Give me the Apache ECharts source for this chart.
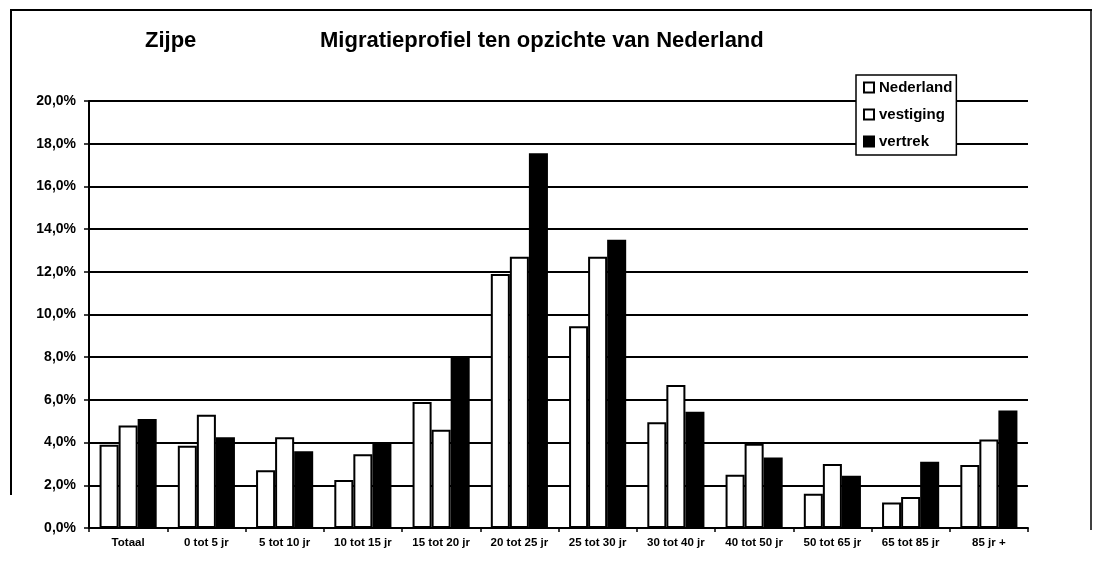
<!DOCTYPE html>
<html><head><meta charset="utf-8">
<script src="https://cdn.jsdelivr.net/npm/echarts@6/dist/echarts.min.js"></script>
<style>html,body{margin:0;padding:0;background:#fff}#c{width:1096px;height:577px}</style>
</head><body><div id="c"></div>
<script>
const categories = ["Totaal","0 tot 5 jr","5 tot 10 jr","10 tot 15 jr","15 tot 20 jr","20 tot 25 jr","25 tot 30 jr","30 tot 40 jr","40 tot 50 jr","50 tot 65 jr","65 tot 85 jr","85 jr +"];
const nederland = [3.9, 3.85, 2.7, 2.25, 5.9, 11.9, 9.45, 4.95, 2.5, 1.6, 1.2, 2.95];
const vestiging = [4.8, 5.3, 4.25, 3.45, 4.6, 12.7, 12.7, 6.7, 3.95, 3.0, 1.45, 4.15];
const vertrek   = [5.1, 4.25, 3.6, 4.0, 8.0, 17.55, 13.5, 5.45, 3.3, 2.45, 3.1, 5.5];

const FONT = '"Liberation Sans", Arial, sans-serif';
const chart = echarts.init(document.getElementById('c'));
chart.setOption({
  animation: false,
  backgroundColor: '#fff',
  textStyle: { fontFamily: FONT },
  graphic: [
    { type: 'line', shape: { x1: 10, y1: 10, x2: 1092, y2: 10 }, style: { stroke: '#000', lineWidth: 2 } },
    { type: 'line', shape: { x1: 11, y1: 10, x2: 11, y2: 495 }, style: { stroke: '#000', lineWidth: 2 } },
    { type: 'line', shape: { x1: 1091, y1: 10, x2: 1091, y2: 530 }, style: { stroke: '#000', lineWidth: 1.5 } },
    { type: 'text', left: 145, top: 30, style: { text: 'Zijpe', font: 'bold 22px ' + FONT, fill: '#000' } },
    { type: 'text', left: 320, top: 30, style: { text: 'Migratieprofiel ten opzichte van Nederland', font: 'bold 22px ' + FONT, fill: '#000' } }
  ],
  legend: {
    orient: 'vertical', left: 856, top: 75,
    backgroundColor: '#fff', borderColor: '#000', borderWidth: 1.5,
    padding: [5, 4, 6, 7], itemGap: 12,
    itemWidth: 10, itemHeight: 10, icon: 'rect',
    textStyle: { fontFamily: FONT, fontSize: 15, fontWeight: 'bold', color: '#000', padding: [0,0,0,0] },
    data: ['Nederland', 'vestiging', 'vertrek']
  },
  grid: { left: 89, right: 68, top: 101, bottom: 49 },
  xAxis: {
    type: 'category', data: categories,
    axisLine: { lineStyle: { color: '#000', width: 2 } },
    axisTick: { show: true, length: 4, lineStyle: { color: '#000', width: 1.5 } },
    axisLabel: { color: '#000', fontFamily: FONT, fontSize: 11.5, fontWeight: 'bold', margin: 9, interval: 0 }
  },
  yAxis: {
    type: 'value', min: 0, max: 20, interval: 2,
    axisLine: { show: true, lineStyle: { color: '#000', width: 2 } },
    axisTick: { show: true, length: 5, lineStyle: { color: '#000', width: 1.5 } },
    splitLine: { lineStyle: { color: '#000', width: 2 } },
    axisLabel: { color: '#000', fontFamily: FONT, fontSize: 14, fontWeight: 'bold', margin: 13,
      formatter: v => v.toFixed(1).replace('.', ',') + '%' }
  },
  series: [
    { name: 'Nederland', type: 'bar', data: nederland, barGap: '0%', barCategoryGap: '27%',
      itemStyle: { color: '#fff', borderColor: '#000', borderWidth: 2 } },
    { name: 'vestiging', type: 'bar', data: vestiging,
      itemStyle: { color: '#fff', borderColor: '#000', borderWidth: 2 } },
    { name: 'vertrek', type: 'bar', data: vertrek,
      itemStyle: { color: '#000', borderColor: '#000', borderWidth: 2 } }
  ]
});
</script></body></html>
